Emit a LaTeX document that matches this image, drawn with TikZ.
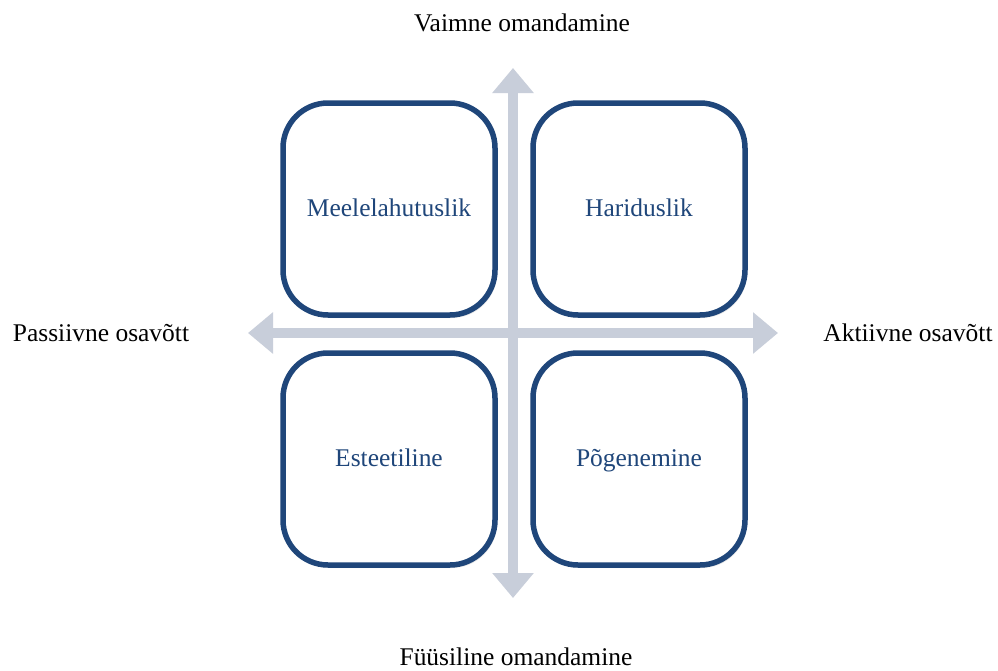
\documentclass[tikz,border=0pt]{standalone}
\usepackage{fontspec}
\setmainfont{Liberation Serif}
\usetikzlibrary{arrows.meta,shadows}
\definecolor{boxblue}{RGB}{31,70,122}
\definecolor{axisgrey}{RGB}{200,206,218}
\tikzset{
  quadrant/.style={draw=boxblue, line width=0.11cm, fill=white, rounded corners=0.9cm,
    minimum width=4.24cm, minimum height=4.24cm, text=boxblue, font=\fontsize{14.5}{17}\selectfont,
    text height=2ex, text depth=0.05ex,
    drop shadow={opacity=0.18, shadow xshift=0.04cm, shadow yshift=-0.06cm}},
  axis/.style={draw=axisgrey, line width=0.2cm, {Triangle[length=0.5cm,width=0.8cm]}-{Triangle[length=0.5cm,width=0.8cm]}},
  axislabel/.style={font=\fontsize{14.5}{17}\selectfont}
}
\begin{document}
\begin{tikzpicture}
  \useasboundingbox[fill=white] (0cm,0cm) rectangle (19.96cm,-13.42cm);
  \coordinate (top) at (10.26cm,-1.36cm);
  \coordinate (bottom) at (10.26cm,-11.96cm);
  \coordinate (left) at (4.96cm,-6.66cm);
  \coordinate (right) at (15.56cm,-6.66cm);
  \draw[axis] (bottom) -- (top);
  \draw[axis] (left) -- (right);
  \node[quadrant] (meel) at (7.78cm,-4.18cm) {Meelelahutuslik};
  \node[quadrant] (harid) at (12.78cm,-4.18cm) {Hariduslik};
  \node[quadrant] (esteet) at (7.78cm,-9.18cm) {Esteetiline};
  \node[quadrant] (pogen) at (12.78cm,-9.18cm) {Põgenemine};
  \node[axislabel] (vaimne) at (10.44cm,-0.46cm) {Vaimne omandamine};
  \node[axislabel] (fyysiline) at (10.32cm,-13.14cm) {Füüsiline omandamine};
  \node[axislabel] (passiivne) at (2.02cm,-6.66cm) {Passiivne osavõtt};
  \node[axislabel] (aktiivne) at (18.16cm,-6.66cm) {Aktiivne osavõtt};
\end{tikzpicture}
\end{document}
